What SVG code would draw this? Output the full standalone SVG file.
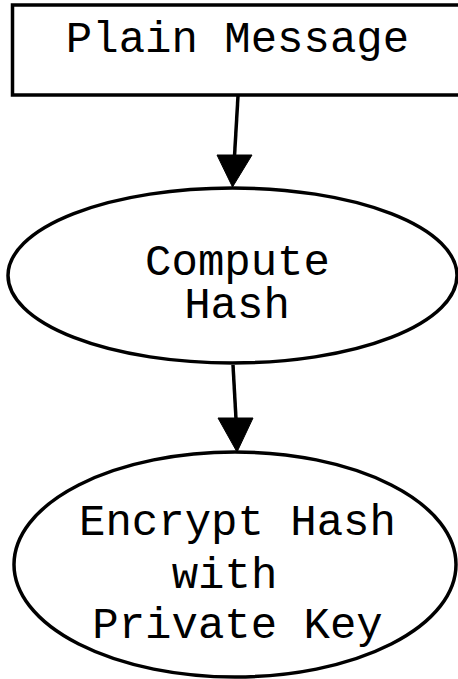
<svg xmlns="http://www.w3.org/2000/svg" width="458" height="679" viewBox="0 0 458 679">
<defs>
<style>
.shape{fill:#fff;stroke:#000;stroke-width:3.5}
.edge{fill:none;stroke:#000;stroke-width:3.5}
.head{fill:#000;stroke:#000;stroke-width:1}
text{font-family:"Liberation Mono","Courier New",monospace;font-size:44px;fill:#000;text-anchor:middle}
</style>
</defs>
<rect width="458" height="679" fill="#fff"/>
<g id="plain">
<rect class="shape" x="12.5" y="5" width="451" height="90"/>
<text x="237.5" y="52">Plain Message</text>
</g>
<g id="hash">
<ellipse class="shape" cx="232.5" cy="275.5" rx="224.5" ry="87.5"/>
<text x="237.5" y="275">Compute</text>
<text x="237" y="318">Hash</text>
</g>
<g id="encrypt">
<ellipse class="shape" cx="235" cy="564.5" rx="221" ry="112.5"/>
<text x="237.5" y="535">Encrypt Hash</text>
<text x="224.5" y="588">with</text>
<text x="237.5" y="638">Private Key</text>
</g>
<g id="connectors">
<path class="edge" d="M238,96 L234.5,156"/>
<polygon class="head" points="217,155 252,155 232.5,187"/>
<path class="edge" d="M233,365 L236,419"/>
<polygon class="head" points="218,418 253,418 237,452"/>
</g>
</svg>
